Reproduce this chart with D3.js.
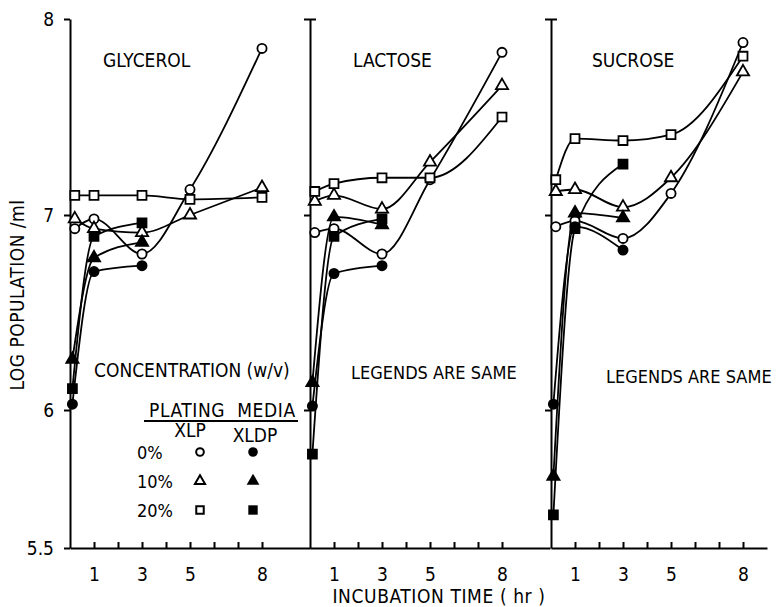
<!DOCTYPE html>
<html>
<head>
<meta charset="utf-8">
<script src="https://cdn.jsdelivr.net/npm/d3@7"></script>
<style>
  body { margin: 0; background: #fff; }
  svg text { font-family: "DejaVu Sans Condensed", "DejaVu Sans", sans-serif; font-stretch: condensed; fill: #000; }
</style>
</head>
<body>
<svg id="chart" width="784" height="607"></svg>
<script>
// ========= Data (log population / ml) ========= //
const panels = ['GLYCEROL', 'LACTOSE', 'SUCROSE'];
const concentrations = ['0%', '10%', '20%'];
const timesXLP = [0.2, 1, 3, 5, 8];   // hr
const timesXLDP = [0.1, 1, 3];        // hr
const xTicks = [1, 2, 3, 4, 5, 6, 7, 8];
const xTickLabels = [1, 3, 5, 8];
const yTicks = [5.5, 6, 7, 8];

// open symbols (XLP plating medium)
const glycerolXLP0 = [6.93, 6.98, 6.80, 7.13, 7.85];
const glycerolXLP10 = [6.98, 6.93, 6.91, 7.00, 7.14];
const glycerolXLP20 = [7.10, 7.10, 7.10, 7.08, 7.09];
const lactoseXLP0 = [6.91, 6.93, 6.80, 7.18, 7.83];
const lactoseXLP10 = [7.07, 7.10, 7.03, 7.27, 7.66];
const lactoseXLP20 = [7.12, 7.16, 7.19, 7.19, 7.50];
const sucroseXLP0 = [6.94, 6.97, 6.88, 7.11, 7.88];
const sucroseXLP10 = [7.12, 7.13, 7.04, 7.19, 7.73];
const sucroseXLP20 = [7.18, 7.39, 7.38, 7.41, 7.81];

// filled symbols (XLDP plating medium)
const glycerolXLDP0 = [6.03, 6.71, 6.74];
const glycerolXLDP10 = [6.26, 6.78, 6.86];
const glycerolXLDP20 = [6.11, 6.89, 6.96];
const lactoseXLDP0 = [6.02, 6.70, 6.74];
const lactoseXLDP10 = [6.14, 6.99, 6.95];
const lactoseXLDP20 = [5.84, 6.89, 6.98];
const sucroseXLDP0 = [6.03, 6.94, 6.82];
const sucroseXLDP10 = [5.76, 7.01, 6.985];
const sucroseXLDP20 = [5.62, 6.93, 7.26];

const seriesByPanel = [
  [glycerolXLP0, glycerolXLP10, glycerolXLP20, glycerolXLDP0, glycerolXLDP10, glycerolXLDP20],
  [lactoseXLP0, lactoseXLP10, lactoseXLP20, lactoseXLDP0, lactoseXLDP10, lactoseXLDP20],
  [sucroseXLP0, sucroseXLP10, sucroseXLP20, sucroseXLDP0, sucroseXLDP10, sucroseXLDP20]
];

// ========= Layout ========= //
const svg = d3.select('#chart');
const panelX0 = [70, 310, 551];
const panelHours = [10, 10, 9];
const hourWidth = 24;
const yAxisBottom = 548;

// the hand drawn y axis is not linear below 6
const y = d3.scaleLinear().domain([5.5, 6, 7, 8]).range([548, 410, 215, 19]);

const symbolTypes = [d3.symbolCircle, d3.symbolTriangle, d3.symbolSquare];
const symbolSizes = [66, 64, 80];
const line = d3.line().curve(d3.curveMonotoneX);

panels.forEach((name, p) => {
  const x = d3.scaleLinear()
    .domain([0, panelHours[p]])
    .range([panelX0[p], panelX0[p] + panelHours[p] * hourWidth]);

  const g = svg.append('g').attr('class', 'panel');

  // ========= Axes ========= //
  const xAxis = g.append('g')
    .attr('transform', `translate(0,${yAxisBottom})`)
    .call(d3.axisBottom(x)
      .tickValues(xTicks)
      .tickSizeInner(-6)
      .tickSizeOuter(0)
      .tickPadding(20)
      .tickFormat(d => xTickLabels.includes(d) ? d : ''));
  xAxis.selectAll('text').attr('font-size', 19);

  const yAxis = g.append('g')
    .attr('transform', `translate(${panelX0[p]},0)`)
    .call(d3.axisLeft(y)
      .tickValues(p === 0 ? yTicks : yTicks.slice(1))
      .tickSizeInner(6)
      .tickSizeOuter(0)
      .tickPadding(10)
      .tickFormat(p === 0 ? d3.format('') : () => ''));
  yAxis.selectAll('text').attr('font-size', 19);
  if (p > 0) {
    yAxis.selectAll('.tick')
      .filter(d => d === 8)
      .select('line')
      .attr('x1', 6);
  }

  svg.selectAll('.domain, .tick line')
    .attr('stroke', '#000')
    .attr('stroke-width', 2);

  // ========= Curves ========= //
  const series = seriesByPanel[p];
  series.forEach((vals, i) => {
    const times = i < 3 ? timesXLP : timesXLDP;
    g.append('path')
      .attr('d', line(vals.map((v, k) => [x(times[k]), y(v)])))
      .attr('fill', 'none')
      .attr('stroke', '#000')
      .attr('stroke-width', 1.8);
  });

  // ========= Markers ========= //
  series.forEach((vals, i) => {
    const times = i < 3 ? timesXLP : timesXLDP;
    const filled = i >= 3;
    g.append('g')
      .selectAll('path')
      .data(vals)
      .join('path')
        .attr('transform', (d, k) => `translate(${x(times[k])},${y(d)})`)
        .attr('d', d3.symbol(symbolTypes[i % 3], symbolSizes[i % 3]))
        .attr('fill', filled ? '#000' : '#fff')
        .attr('stroke', '#000')
        .attr('stroke-width', 1.8);
  });

  // ========= Panel labels ========= //
  g.append('text')
    .attr('x', [103, 353, 592][p])
    .attr('y', 67)
    .attr('font-size', 19)
    .text(name);

  if (p > 0) {
    g.append('text')
      .attr('x', [0, 351, 606][p])
      .attr('y', [0, 379, 383][p])
      .attr('font-size', 18)
      .text('LEGENDS ARE SAME');
  }
});

// ========= Legend ========= //
const legend = svg.append('g').attr('class', 'legend');
legend.append('text')
  .attr('x', 94).attr('y', 377)
  .attr('font-size', 19)
  .text('CONCENTRATION (w/v)');
legend.append('text')
  .attr('x', 149).attr('y', 417)
  .attr('font-size', 19)
  .attr('letter-spacing', 0.6)
  .attr('xml:space', 'preserve')
  .text('PLATING  MEDIA');
legend.append('line')
  .attr('x1', 144).attr('x2', 298)
  .attr('y1', 421).attr('y2', 421)
  .attr('stroke', '#000').attr('stroke-width', 2);
legend.append('text')
  .attr('x', 190).attr('y', 437)
  .attr('text-anchor', 'middle')
  .attr('font-size', 19)
  .text('XLP');
legend.append('text')
  .attr('x', 255).attr('y', 442)
  .attr('text-anchor', 'middle')
  .attr('font-size', 19)
  .text('XLDP');

const legendRowY = d3.scalePoint().domain(concentrations).range([452, 510]);
concentrations.forEach((c, i) => {
  const cy = legendRowY(c);
  legend.append('text')
    .attr('x', 137).attr('y', cy + 7)
    .attr('font-size', 18)
    .text(c);
  legend.append('path')
    .attr('transform', `translate(200,${cy})`)
    .attr('d', d3.symbol(symbolTypes[i], symbolSizes[i] * 0.7))
    .attr('fill', '#fff').attr('stroke', '#000').attr('stroke-width', 2);
  legend.append('path')
    .attr('transform', `translate(253,${cy})`)
    .attr('d', d3.symbol(symbolTypes[i], symbolSizes[i] * 1.1))
    .attr('fill', '#000');
});

// ========= Axis titles ========= //
svg.append('text')
  .attr('transform', 'translate(24,295) rotate(-90)')
  .attr('text-anchor', 'middle')
  .attr('font-size', 19)
  .attr('letter-spacing', 0.5)
  .text('LOG POPULATION /ml');

svg.append('text')
  .attr('x', 439).attr('y', 603)
  .attr('text-anchor', 'middle')
  .attr('font-size', 19)
  .attr('letter-spacing', 0.6)
  .text('INCUBATION TIME ( hr )');
</script>
</body>
</html>
